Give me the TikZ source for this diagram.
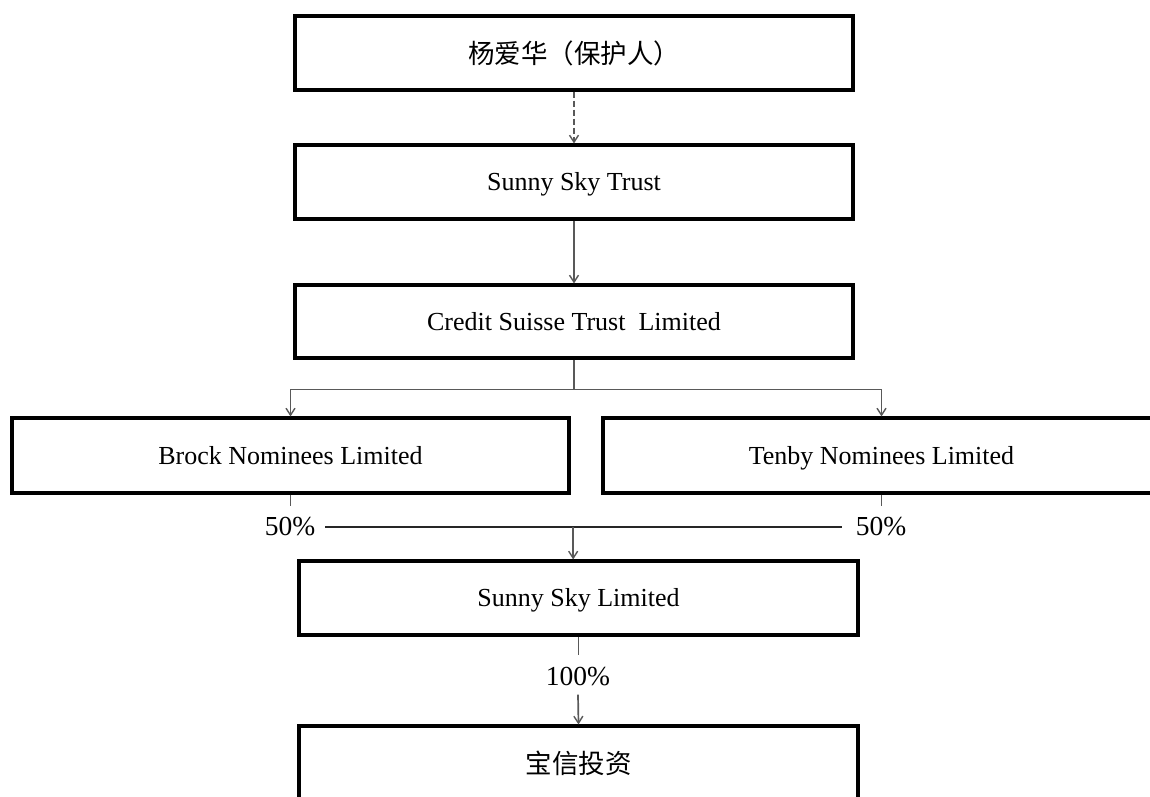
\documentclass[tikz,border=0pt]{standalone}
\usepackage{fontspec}
\setmainfont{Liberation Serif}
\newfontfamily\cjk{Noto Sans CJK SC}
\usetikzlibrary{arrows.meta}
\begin{document}
\begin{tikzpicture}[x=1pt,y=-1pt,
  box/.style={draw=black,line width=3.1pt,fill=white,minimum height=74pt,inner sep=0pt,text height=20pt,text depth=3pt,font=\fontsize{26}{30}\selectfont},
  cjkt/.style={font=\cjk\fontsize{26.5}{30}\selectfont,text height=22pt,text depth=2pt},
  conn/.style={draw=black!65,line width=1.7pt},
  arr/.style={conn,-{Straight Barb[length=7pt,width=9pt,line width=1.4pt]}},
  pct/.style={inner sep=0pt,text height=20pt,text depth=3pt,font=\fontsize{27.5}{30}\selectfont}]
\useasboundingbox (0,0) rectangle (1150,796);
\node[box,minimum width=558pt,cjkt] (n1) at (574,53) {杨爱华（保护人）};
\node[box,minimum width=558pt] (n2) at (574,182) {Sunny Sky Trust};
\node[box,minimum width=558pt,minimum height=73pt] (n3) at (574,321.5) {Credit Suisse Trust\ \ Limited};
\node[box,minimum width=557pt,minimum height=75pt] (brock) at (290.5,455.5) {Brock Nominees Limited};
\node[box,minimum width=557pt,minimum height=75pt] (tenby) at (881.5,455.5) {Tenby Nominees Limited};
\node[box,minimum width=559pt] (ssl) at (578.5,598) {Sunny Sky Limited};
\node[box,minimum width=559pt,cjkt] (fin) at (578.5,763) {宝信投资};
\node[pct] (p1) at (290,527) {50\%};
\node[pct] (p2) at (881,527) {50\%};
\node[pct] (p3) at (578,677) {100\%};
% connectors
\draw[arr,dash pattern=on 6pt off 3pt] (n1.south) -- (n2.north);
\draw[arr] (n2.south) -- (n3.north);
\draw[conn] (n3.south) -- ++(0,30) coordinate (split);
\draw[arr] (split) -| (brock.north);
\draw[arr] (split) -| (tenby.north);
\draw[conn] (brock.south) -- ++(0,11);
\draw[conn] (tenby.south) -- ++(0,11);
\draw[draw=black!85,line width=1.6pt] ([xshift=10pt]p1.east) -- coordinate[pos=0.48] (join) ([xshift=-14pt]p2.west);
\draw[arr] (join) -- (join |- ssl.north);
\draw[conn] (ssl.south) -- ++(0,18);
\draw[arr] ([yshift=-6pt]p3.south) -- (fin.north);
\end{tikzpicture}
\end{document}
